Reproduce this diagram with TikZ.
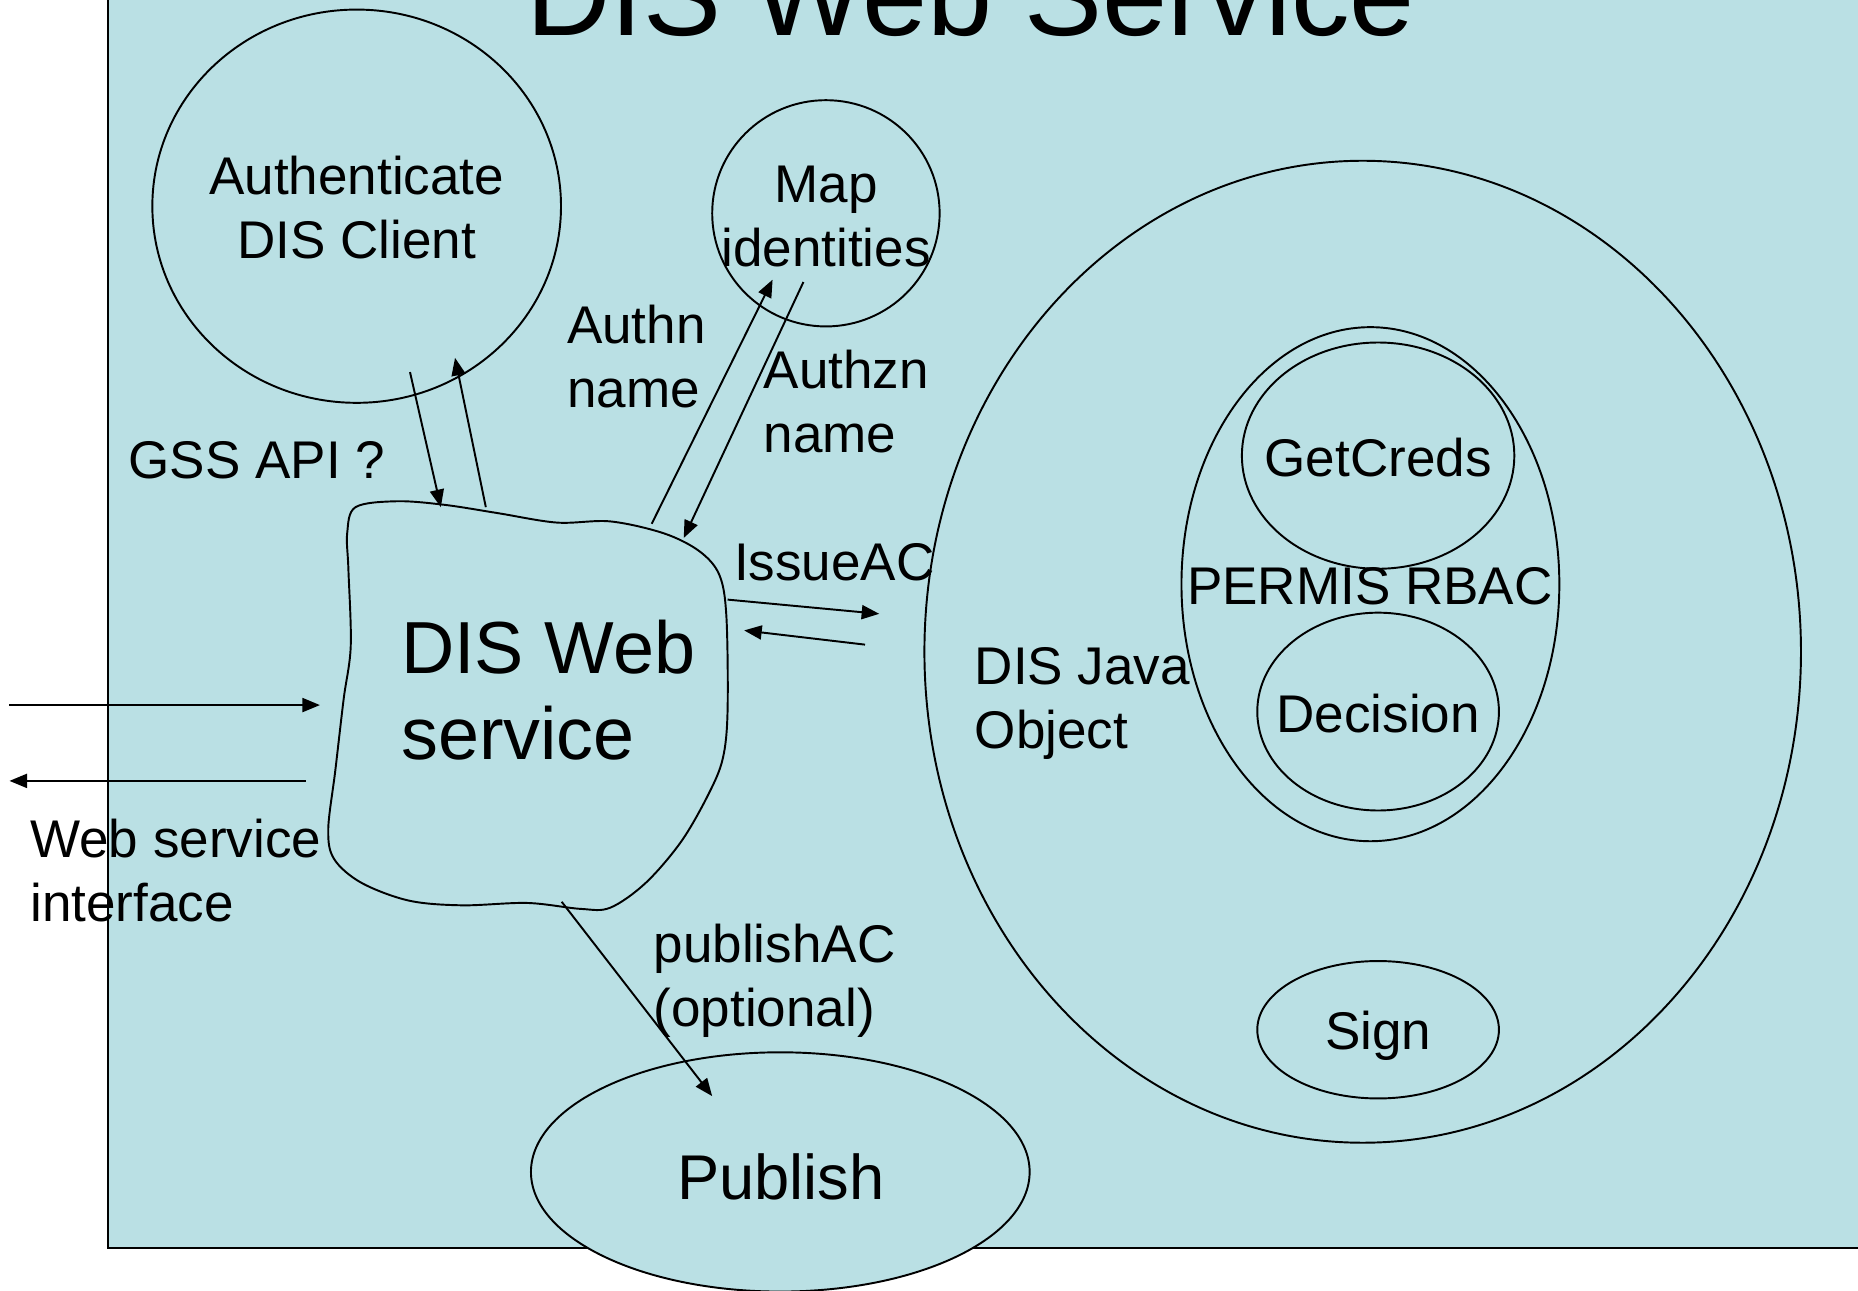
\documentclass[tikz,border=0pt]{standalone}
\usepackage{fontspec}
\setmainfont{Liberation Sans}
\usetikzlibrary{shapes.geometric,arrows.meta}
\definecolor{bgblue}{RGB}{186,224,228}
\def\upx{0.3372pt}
\begin{document}
\begin{tikzpicture}[x=0.01185cm,y=-0.01185cm,
  shapeline/.style={draw=black,line width=0.55pt,fill=bgblue},
  oval/.style={shapeline,ellipse,inner sep=0pt},
  conn/.style={line width=0.55pt,-{Triangle[length=5pt,width=4pt]}},
  lbl/.style={font=\fontsize{15.1}{18.2}\selectfont,inner sep=0pt},
  biglbl/.style={font=\fontsize{21}{24.6}\selectfont,inner sep=0pt},
  publbl/.style={font=\fontsize{18}{21.6}\selectfont,inner sep=0pt},
  titlelbl/.style={font=\fontsize{33.3}{40}\selectfont,inner sep=0pt}]
\useasboundingbox (0,0) rectangle (1568,1089);
% background panel
\draw[shapeline] (91,-30) rectangle (1620,1053);
% ovals
\node[oval,minimum width=345*\upx,minimum height=332*\upx] (authc) at (301,174) {};
\node[oval,minimum width=192*\upx,minimum height=191*\upx] (mapc) at (697,180) {};
\node[oval,minimum width=740*\upx,minimum height=829*\upx] (javac) at (1150,550) {};
\node[oval,minimum width=319*\upx,minimum height=434*\upx] (permisc) at (1156.5,493) {};
\node[oval,minimum width=230*\upx,minimum height=191*\upx] (getc) at (1163,384.5) {};
\node[oval,minimum width=204*\upx,minimum height=167*\upx] (decc) at (1163,600.5) {};
\node[oval,minimum width=204*\upx,minimum height=116*\upx] (signc) at (1163,869) {};
\node[oval,minimum width=421*\upx,minimum height=202*\upx] (pubc) at (658.5,989) {};
% blob
\draw[shapeline] plot[smooth cycle,tension=0.55] coordinates {
 (300,428) (335,423) (375,426) (420,433) (470,441) (515,440) (560,450) (590,465)
 (607,485) (613,520) (614,600) (610,640) (598,670) (575,710) (545,745) (515,766)
 (490,767) (445,762) (390,764) (345,760) (305,745) (282,725) (277,700) (283,650)
 (290,590) (296,545) (294,480) (293,450)};
% texts (base anchor = baseline of the last line)
\node[titlelbl,anchor=base] (title) at (819,30) {DIS Web Service};
\node[lbl,anchor=base,align=center] (authtext) at (301,218) {Authenticate\\DIS Client};
\node[lbl,anchor=base,align=center] (maptext) at (697,225) {Map\\identities};
\node[lbl,anchor=base west,align=left] (authn) at (478,344) {Authn\\name};
\node[lbl,anchor=base west,align=left] (authzn) at (644,382) {Authzn\\name};
\node[lbl,anchor=base west] (gss) at (108,404) {GSS API ?};
\node[lbl,anchor=base west] (issue) at (619,490) {IssueAC};
\node[lbl,anchor=base west,align=left] (java) at (822,632) {DIS Java\\Object};
\node[lbl,anchor=base] (permis) at (1156,510) {PERMIS RBAC};
\node[lbl,anchor=base] (gettext) at (1163,402) {GetCreds};
\node[lbl,anchor=base] (dectext) at (1163,618) {Decision};
\node[lbl,anchor=base] (signtext) at (1163,886) {Sign};
\node[lbl,anchor=base west,align=left] (pubac) at (551,866) {publishAC\\(optional)};
\node[publbl,anchor=base] (pubtext) at (659,1012) {Publish};
\node[lbl,anchor=base west,align=left] (webif) at (25,778) {Web service\\interface};
\node[biglbl,anchor=base west,align=left] (blob) at (338,641) {DIS Web\\service};
% connector end points
\coordinate (g1s) at (346,314); \coordinate (g1e) at (372,428);
\coordinate (g2s) at (410,428); \coordinate (g2e) at (384,302);
\coordinate (m1s) at (550,442); \coordinate (m1e) at (652,236);
\coordinate (m2s) at (678,238); \coordinate (m2e) at (577,454);
\coordinate (i1s) at (614,506); \coordinate (i1e) at (742,518);
\coordinate (i2s) at (730,544); \coordinate (i2e) at (628,532);
\coordinate (w1s) at (8,595);   \coordinate (w1e) at (270,595);
\coordinate (w2s) at (258,659); \coordinate (w2e) at (8,659);
\coordinate (p1s) at (474,761); \coordinate (p1e) at (601,925);
% connectors
\draw[conn] (g1s) -- (g1e);
\draw[conn] (g2s) -- (g2e);
\draw[conn] (m1s) -- (m1e);
\draw[conn] (m2s) -- (m2e);
\draw[conn] (i1s) -- (i1e);
\draw[conn] (i2s) -- (i2e);
\draw[conn] (w1s) -- (w1e);
\draw[conn] (w2s) -- (w2e);
\draw[conn] (p1s) -- (p1e);
\end{tikzpicture}
\end{document}
